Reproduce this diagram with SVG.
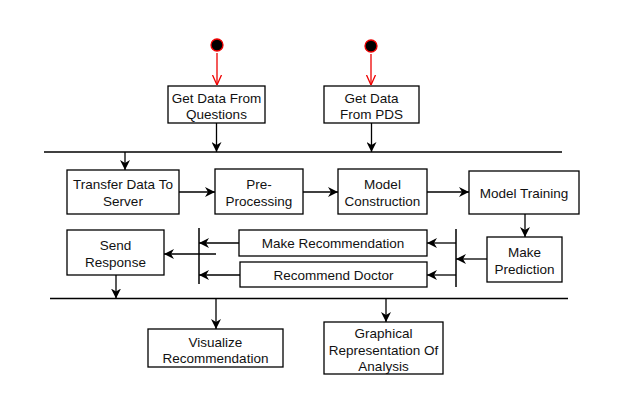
<svg xmlns="http://www.w3.org/2000/svg" width="625" height="409" viewBox="0 0 625 409">
<style>
.box{fill:#fff;stroke:#000;stroke-width:1.3}
.t{font-family:"Liberation Sans",Arial,sans-serif;font-size:13.5px;fill:#111;text-anchor:middle}
.c{stroke:#000;stroke-width:1.3;fill:none}
.r{stroke:#e00;stroke-width:1.3;fill:none}
.bar{stroke:#000;stroke-width:1.5}
</style>
<defs>
<marker id="a" viewBox="0 0 10 10" refX="10" refY="5" markerWidth="10" markerHeight="10" markerUnits="userSpaceOnUse" orient="auto">
<path d="M0,0 L10,5 L0,10 L3,5 Z" fill="#000"/>
</marker>
<marker id="o" viewBox="0 0 10 10" refX="10" refY="5" markerWidth="10" markerHeight="12" markerUnits="userSpaceOnUse" orient="auto">
<path d="M0,0.5 L10,5 L0,9.5" fill="none" stroke="#e00" stroke-width="1.3"/>
</marker>
</defs>
<rect width="625" height="409" fill="#fff"/>
<g id="start1"><circle cx="217" cy="45" r="6" fill="#000" stroke="#e00" stroke-width="1.3"/></g>
<g id="start2"><circle cx="371" cy="46" r="6" fill="#000" stroke="#e00" stroke-width="1.3"/></g>
<g id="bars">
<line class="bar" x1="44" y1="152" x2="562" y2="152"/>
<line class="bar" x1="50" y1="298.5" x2="568" y2="298.5"/>
<line class="bar" x1="456" y1="229" x2="456" y2="287"/>
<line class="bar" x1="199" y1="228" x2="199" y2="284"/>
</g>
<g id="n1"><rect class="box" x="168" y="86" width="97" height="37"/><text class="t" x="216.5" y="103">Get Data From</text><text class="t" x="216.5" y="119">Questions</text></g>
<g id="n2"><rect class="box" x="324" y="86" width="95" height="37"/><text class="t" x="371.5" y="103">Get Data</text><text class="t" x="371.5" y="119">From PDS</text></g>
<g id="n3"><rect class="box" x="67" y="170" width="112" height="44"/><text class="t" x="123" y="189">Transfer Data To</text><text class="t" x="123" y="206">Server</text></g>
<g id="n4"><rect class="box" x="215" y="169" width="88" height="45"/><text class="t" x="259" y="189">Pre-</text><text class="t" x="259" y="206">Processing</text></g>
<g id="n5"><rect class="box" x="338" y="169" width="89" height="45"/><text class="t" x="382.5" y="189">Model</text><text class="t" x="382.5" y="206">Construction</text></g>
<g id="n6"><rect class="box" x="469" y="171" width="110" height="43"/><text class="t" x="524" y="198">Model Training</text></g>
<g id="n7"><rect class="box" x="487" y="237" width="75" height="45"/><text class="t" x="524.5" y="257">Make</text><text class="t" x="524.5" y="274">Prediction</text></g>
<g id="n8"><rect class="box" x="239" y="230" width="188" height="26"/><text class="t" x="333" y="248">Make Recommendation</text></g>
<g id="n9"><rect class="box" x="240" y="262" width="187" height="25"/><text class="t" x="333.5" y="280">Recommend Doctor</text></g>
<g id="n10"><rect class="box" x="67" y="230" width="97" height="45"/><text class="t" x="115.5" y="250">Send</text><text class="t" x="115.5" y="267">Response</text></g>
<g id="n11"><rect class="box" x="148" y="329" width="135" height="38"/><text class="t" x="215.5" y="347">Visualize</text><text class="t" x="215.5" y="363">Recommendation</text></g>
<g id="n12"><rect class="box" x="324" y="322" width="119" height="52"/><text class="t" x="383.5" y="338">Graphical</text><text class="t" x="383.5" y="355">Representation Of</text><text class="t" x="383.5" y="371">Analysis</text></g>
<g id="connectors">
<line class="r" x1="217" y1="53" x2="217" y2="85" marker-end="url(#o)"/>
<line class="r" x1="371" y1="54" x2="371" y2="85" marker-end="url(#o)"/>
<line class="c" x1="216.5" y1="123" x2="216.5" y2="152" marker-end="url(#a)"/>
<line class="c" x1="371.5" y1="123" x2="371.5" y2="152" marker-end="url(#a)"/>
<line class="c" x1="125" y1="152" x2="125" y2="170" marker-end="url(#a)"/>
<line class="c" x1="179" y1="192" x2="215" y2="192" marker-end="url(#a)"/>
<line class="c" x1="303" y1="192" x2="338" y2="192" marker-end="url(#a)"/>
<line class="c" x1="427" y1="192" x2="469" y2="192" marker-end="url(#a)"/>
<line class="c" x1="525" y1="214" x2="525" y2="237" marker-end="url(#a)"/>
<line class="c" x1="487" y1="259" x2="456" y2="259" marker-end="url(#a)"/>
<line class="c" x1="456" y1="243" x2="427" y2="243" marker-end="url(#a)"/>
<line class="c" x1="456" y1="275" x2="427" y2="275" marker-end="url(#a)"/>
<line class="c" x1="239" y1="243" x2="199" y2="243" marker-end="url(#a)"/>
<line class="c" x1="240" y1="275" x2="199" y2="275" marker-end="url(#a)"/>
<line class="c" x1="216" y1="254" x2="164" y2="254" marker-end="url(#a)"/>
<line class="c" x1="116" y1="275" x2="116" y2="298.5" marker-end="url(#a)"/>
<line class="c" x1="216" y1="298.5" x2="216" y2="329" marker-end="url(#a)"/>
<line class="c" x1="386" y1="298.5" x2="386" y2="322" marker-end="url(#a)"/>
</g>
</svg>
